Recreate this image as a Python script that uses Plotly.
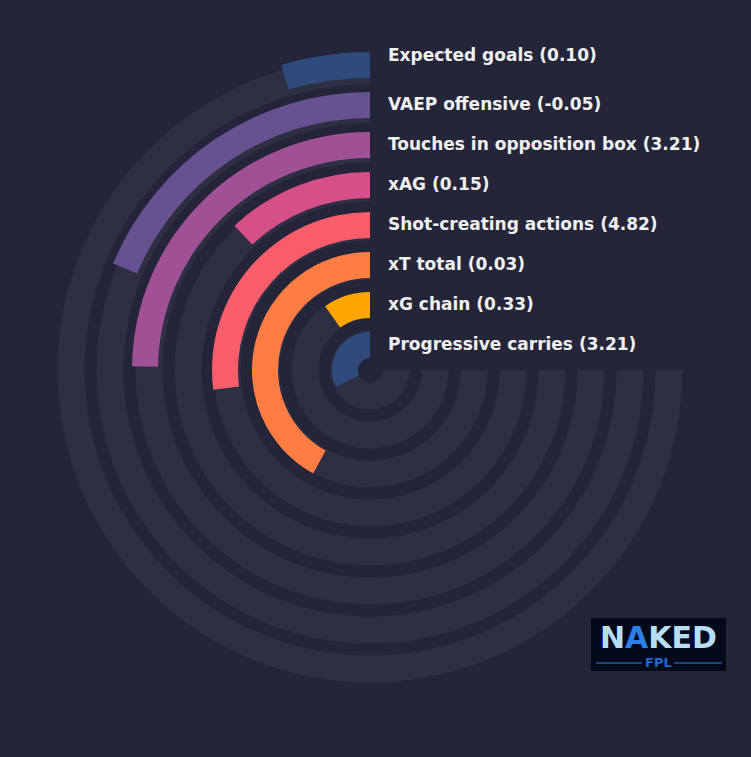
import plotly.graph_objects as go

# metrics, innermost ring last
metrics = [
    "Expected goals",
    "VAEP offensive",
    "Touches in opposition box",
    "xAG",
    "Shot-creating actions",
    "xT total",
    "xG chain",
    "Progressive carries",
]
values = ["0.10", "-0.05", "3.21", "0.15", "4.82", "0.03", "0.33", "3.21"]
percentiles = [6, 25, 33, 16, 36, 56, 13, 43]
colors = [
    "#2f4b7c",
    "#665191",
    "#a05195",
    "#d45087",
    "#f95d6a",
    "#ff7c43",
    "#ffa600",
    "#2f4b7c",
]

W, H = 751, 757
BG = "#25253a"
TRACK = "#2f2f44"
CX, CY, R = 370, 370, 320  # pixel centre and radius of the polar area

fig = go.Figure()

n = len(metrics)
for i in range(n):
    k = n - 1 - i  # ring index from the centre
    # background track, full 270 degrees
    t_mid = 26 + 39 * k
    fig.add_trace(
        go.Barpolar(
            r=[27],
            base=[t_mid - 13.5],
            theta=[135],
            width=[270],
            marker=dict(color=TRACK, line=dict(width=0)),
            hoverinfo="skip",
            showlegend=False,
        )
    )

for i in range(n):
    k = n - 1 - i
    b_mid = 25 + 40 * k
    ang = 270 * percentiles[i] / 100
    fig.add_trace(
        go.Barpolar(
            r=[26],
            base=[b_mid - 13],
            theta=[ang / 2],
            width=[ang],
            marker=dict(color=colors[i], line=dict(width=0)),
            name=metrics[i],
            hovertemplate=f"{metrics[i]}: {values[i]}<extra></extra>",
            showlegend=False,
        )
    )

fig.update_layout(
    width=W,
    height=H,
    margin=dict(l=0, r=0, t=0, b=0),
    paper_bgcolor=BG,
    plot_bgcolor=BG,
    barmode="overlay",
    polar=dict(
        bgcolor=BG,
        domain=dict(
            x=[(CX - R) / W, (CX + R) / W],
            y=[1 - (CY + R) / H, 1 - (CY - R) / H],
        ),
        radialaxis=dict(range=[0, R], visible=False, showgrid=False),
        angularaxis=dict(
            rotation=90,
            direction="counterclockwise",
            visible=False,
            showgrid=False,
        ),
    ),
)

# labels next to the start of each bar
label_y = [55, 104, 144, 184, 224, 264, 304, 344]
for i in range(n):
    fig.add_annotation(
        x=386 / W,
        y=1 - label_y[i] / H,
        xref="paper",
        yref="paper",
        xanchor="left",
        yanchor="middle",
        showarrow=False,
        text=f"<b>{metrics[i]} ({values[i]})</b>",
        font=dict(family="DejaVu Sans", size=17, color="#f0f0f0"),
    )

# logo box
fig.add_shape(
    type="rect",
    xref="paper",
    yref="paper",
    x0=591 / W,
    x1=726 / W,
    y0=1 - 671 / H,
    y1=1 - 618 / H,
    fillcolor="#020a1c",
    line=dict(width=0),
)
fig.add_annotation(
    x=658 / W,
    y=1 - 637 / H,
    xref="paper",
    yref="paper",
    xanchor="center",
    yanchor="middle",
    showarrow=False,
    text="<b>N<span style='color:#2a7fe8'>A</span>KED</b>",
    font=dict(family="DejaVu Sans", size=30, color="#b8def5"),
)
fig.add_annotation(
    x=658 / W,
    y=1 - 662 / H,
    xref="paper",
    yref="paper",
    xanchor="center",
    yanchor="middle",
    showarrow=False,
    text="<b>FPL</b>",
    font=dict(family="DejaVu Sans", size=13, color="#2466d0"),
)
for x0, x1 in [(596, 642), (674, 722)]:
    fig.add_shape(
        type="line",
        xref="paper",
        yref="paper",
        x0=x0 / W,
        x1=x1 / W,
        y0=1 - 663 / H,
        y1=1 - 663 / H,
        line=dict(color="#2a7fe8", width=1),
    )

fig.write_html(
    "out.html",
    config={"displayModeBar": False},
    post_script=(
        "document.body.style.margin='0';"
        "document.body.style.background='" + BG + "';"
        "document.body.style.overflow='hidden';"
    ),
)
